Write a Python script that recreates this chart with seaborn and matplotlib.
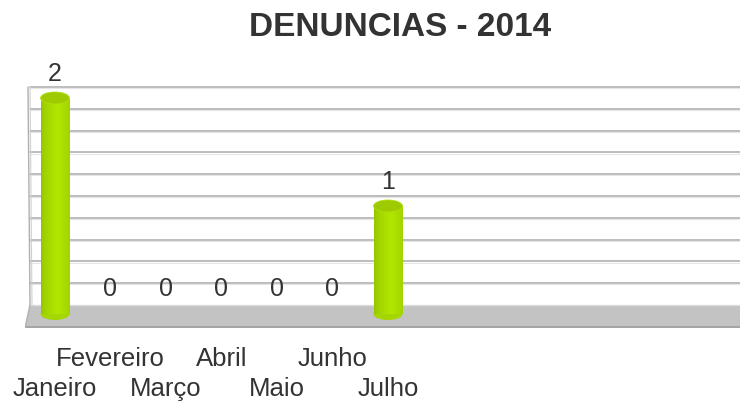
import numpy as np
import pandas as pd
import matplotlib
matplotlib.use("Agg")
import matplotlib.pyplot as plt
import seaborn as sns
from matplotlib.patches import Ellipse, Polygon

months = ["Janeiro", "Fevereiro", "Março", "Abril", "Maio", "Junho", "Julho"]
values = [2, 0, 0, 0, 0, 0, 1]
title = "DENUNCIAS - 2014"

sns.set_theme(style="white")
plt.rcParams['font.family'] = ['Liberation Sans', 'DejaVu Sans']

W, H = 741, 408
fig = plt.figure(figsize=(W / 100, H / 100), dpi=100)
# axes in pixels: x 25..740, y 86..328
px_left, px_right, px_top, px_bot = 25, 740, 86, 328
ax = fig.add_axes([px_left / W, 1 - px_bot / H, (px_right - px_left) / W, (px_bot - px_top) / H])

df = pd.DataFrame({"month": months, "value": values})
sns.barplot(data=df, x="month", y="value", order=months, color="#aadd00",
            width=0.52, ax=ax, zorder=3, saturation=1)

unit = 108.0  # px per data unit
base_px = 314
ax.set_ylim(-(px_bot - base_px) / unit, (base_px - px_top) / unit)
sp = 55.5
xmin = -(55 - px_left) / sp
xmax = xmin + (px_right - px_left) / sp
ax.set_xlim(xmin, xmax)

def py(p):
    return (base_px - p) / unit

# floor
floor_top = py(305)
y0 = ax.get_ylim()[0]
x_l_top = xmin + (30 - px_left) / sp
floor = Polygon([[x_l_top, floor_top], [xmax, floor_top],
                 [xmax, y0], [xmin, y0]], closed=True,
                facecolor="#c3c3c3", edgecolor="none", zorder=1)
ax.add_patch(floor)
ax.plot([xmin, xmax], [y0 + 0.005, y0 + 0.005], color="#a0a0a0", lw=1.2, zorder=1.5)
ax.plot([x_l_top, xmax], [floor_top, floor_top], color="#dcdcdc", lw=1.0, zorder=1.5)

# back wall gridlines
for k in range(1, 11):
    yy = py(305 - k * 21.8)
    ax.plot([x_l_top, xmax], [yy, yy], color="#aaaaaa", lw=1.1, zorder=1)
    ax.plot([x_l_top, xmax], [yy - 0.012, yy - 0.012], color="#e6e6e6", lw=0.8, zorder=1)

# left wall slanted edges
xw_top = xmin + (28 - px_left) / sp
ax.plot([xw_top, x_l_top], [py(87), floor_top], color="#b0b0b0", lw=1.0, zorder=1)
ax.plot([xmin + (30 - px_left) / sp, xmin + (32 - px_left) / sp], [py(87), floor_top],
        color="#d0d0d0", lw=0.8, zorder=1)
ax.plot([x_l_top, xmin], [floor_top, y0], color="#b0b0b0", lw=1.0, zorder=1.5)

# cylinder styling: horizontal gradient
dark = np.array(matplotlib.colors.to_rgb("#92c200"))
bright = np.array(matplotlib.colors.to_rgb("#b2e600"))
g = np.linspace(0, 1, 256)
t = np.clip(1 - np.abs(g - 0.58) / 0.58, 0, 1) ** 0.6
img = dark[None, :] * (1 - t[:, None]) + bright[None, :] * t[:, None]
img = np.repeat(img[None, :, :], 2, axis=0)
container = ax.containers[0]
ell_h = 12 / unit
for p in container.patches:
    h = p.get_height()
    if h <= 0:
        p.set_visible(False)
        continue
    x0, w = p.get_x(), p.get_width()
    p.set_edgecolor("none")
    im = ax.imshow(img, extent=[x0, x0 + w, 0, h], aspect="auto",
                   zorder=3.5, interpolation="bilinear")
    im.set_clip_path(p)
    bot = Ellipse((x0 + w / 2, 0), w, ell_h, facecolor="#a4d600", edgecolor="none", zorder=3.2)
    ax.add_patch(bot)
    top = Ellipse((x0 + w / 2, h), w, ell_h, facecolor="#9dca00", edgecolor="#b4e010",
                  lw=0.6, zorder=4)
    ax.add_patch(top)

ax.bar_label(container, labels=[str(v) for v in values], padding=9,
             fontsize=18, color="#333333", zorder=5)

for s in ax.spines.values():
    s.set_visible(False)
ax.set_yticks([])
ax.set_xlabel("")
ax.set_ylabel("")
idx = list(range(len(months)))
ax.set_xticks(idx[0::2], labels=months[0::2])
ax.set_xticks(idx[1::2], labels=months[1::2], minor=True)
ax.tick_params(axis="x", which="both", length=0, labelsize=18.5, labelcolor="#333333")
ax.tick_params(axis="x", which="minor", pad=13.5)
ax.tick_params(axis="x", which="major", pad=35)
ax.set_facecolor("white")

fig.text(400 / W, 1 - 28 / H, title, ha="center", va="center",
         fontsize=24, fontweight="bold", color="#333333")

fig.savefig("out.png", dpi=100)
